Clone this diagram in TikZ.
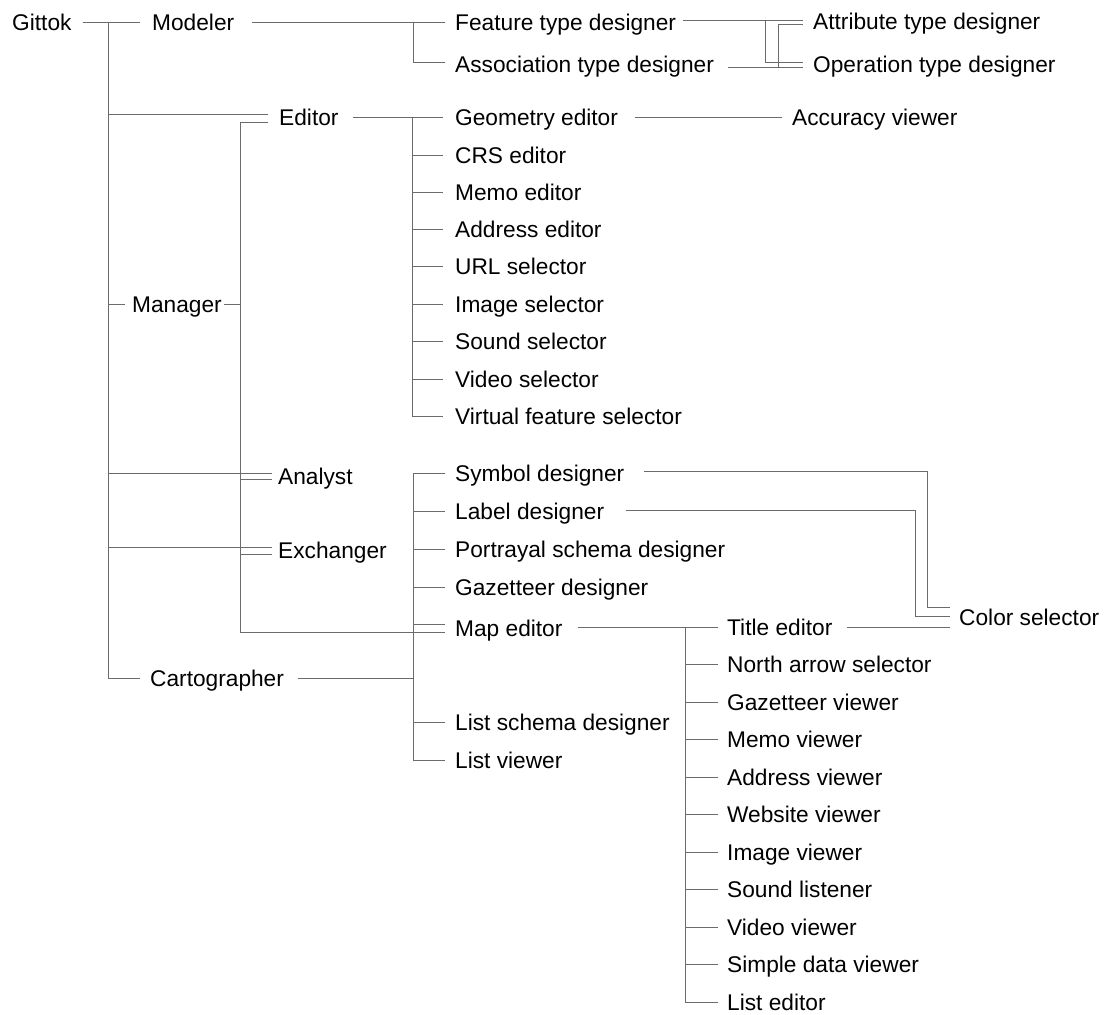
\documentclass[tikz,border=0pt]{standalone}
\usepackage{fontspec}
\setmainfont{Liberation Sans}
\begin{document}
\begin{tikzpicture}[x=1pt,y=-1pt,
  lbl/.style={anchor=west, inner sep=0pt, text height=16.2pt, text depth=0pt,
              font=\fontsize{22.7}{27}\selectfont},
  wire/.style={draw=black!58, line width=0.8pt}]
\useasboundingbox (0,0) rectangle (1107,1014);
% note: yshift is in canvas units, so a positive yshift moves a point up

% ---- labels ----
\node[lbl] (gittok)    at (12,22)   {Gittok};
\node[lbl] (modeler)   at (152,22)  {Modeler};
\node[lbl] (manager)   at (132,304) {Manager};
\node[lbl] (carto)     at (150,678) {Cartographer};
\node[lbl] (editor)    at (279,117) {Editor};
\node[lbl] (analyst)   at (278,476) {Analyst};
\node[lbl] (exchanger) at (278,550.5) {Exchanger};

\node[lbl] (feature)   at (455,22)  {Feature type designer};
\node[lbl] (assoc)     at (455,64)  {Association type designer};
\node[lbl] (attr)      at (813,21)  {Attribute type designer};
\node[lbl] (oper)      at (813,64)  {Operation type designer};

\node[lbl] (geom)      at (455,117)   {Geometry editor};
\node[lbl] (crs)       at (455,155)   {CRS editor};
\node[lbl] (memoed)    at (455,192)   {Memo editor};
\node[lbl] (addred)    at (455,229)   {Address editor};
\node[lbl] (url)       at (455,266.5) {URL selector};
\node[lbl] (imgsel)    at (455,304)   {Image selector};
\node[lbl] (soundsel)  at (455,341.5) {Sound selector};
\node[lbl] (videosel)  at (455,379)   {Video selector};
\node[lbl] (virtual)   at (455,416.5) {Virtual feature selector};
\node[lbl] (accuracy)  at (792,117)   {Accuracy viewer};

\node[lbl] (symbol)    at (455,473)   {Symbol designer};
\node[lbl] (label)     at (455,511)   {Label designer};
\node[lbl] (portrayal) at (455,549)   {Portrayal schema designer};
\node[lbl] (gazdes)    at (455,587)   {Gazetteer designer};
\node[lbl] (mapeditor) at (455,628)   {Map editor};
\node[lbl] (listschema) at (455,722)  {List schema designer};
\node[lbl] (listviewer) at (455,760)  {List viewer};
\node[lbl] (color)     at (959,617)   {Color selector};

\node[lbl] (title)     at (727,627)    {Title editor};
\node[lbl] (north)     at (727,664.5)  {North arrow selector};
\node[lbl] (gazview)   at (727,702)    {Gazetteer viewer};
\node[lbl] (memoview)  at (727,739.5)  {Memo viewer};
\node[lbl] (addrview)  at (727,777)    {Address viewer};
\node[lbl] (website)   at (727,814.5)  {Website viewer};
\node[lbl] (imageview) at (727,852)    {Image viewer};
\node[lbl] (soundlist) at (727,889.5)  {Sound listener};
\node[lbl] (videoview) at (727,927)    {Video viewer};
\node[lbl] (simple)    at (727,964.5)  {Simple data viewer};
\node[lbl] (listeditor) at (727,1002)  {List editor};

% ---- junction points ----
\coordinate (jroot)  at (108,22);
\coordinate (jman)   at (240,304);
\coordinate (jmod)   at (413,22);
\coordinate (jfeat)  at (765,20);
\coordinate (jassoc) at (778,67);
\coordinate (jedit)  at (412,117);
\coordinate (jcarto) at (413,678);
\coordinate (jmap)   at (685,627);

% ---- root ----
\draw[wire] ([xshift=11]gittok.east) -- ([xshift=-12]modeler.west);
\draw[wire] (jroot) |- ([xshift=-11,yshift=2.5]editor.west);
\draw[wire] (jroot) |- ([xshift=-7]manager.west);
\draw[wire] (jroot) |- ([xshift=-6,yshift=3]analyst.west);
\draw[wire] (jroot) |- ([xshift=-6,yshift=3.5]exchanger.west);
\draw[wire] (jroot) |- ([xshift=-10]carto.west);

% ---- manager ----
\draw[wire] ([xshift=2]manager.east) -- (jman);
\draw[wire] (jman) |- ([xshift=-11,yshift=-5.5]editor.west);
\draw[wire] (jman) |- ([xshift=-6,yshift=-3]analyst.west);
\draw[wire] (jman) |- ([xshift=-6,yshift=-3.5]exchanger.west);
\draw[wire] (jman) |- ([xshift=-10,yshift=-4]mapeditor.west);

% ---- modeler ----
\draw[wire] ([xshift=18]modeler.east) -- ([xshift=-10]feature.west);
\draw[wire] (jmod) |- ([xshift=-10,yshift=2]assoc.west);
\draw[wire] ([xshift=7,yshift=2]feature.east) -- ([xshift=-10,yshift=1]attr.west);
\draw[wire] (jfeat) |- ([xshift=-10,yshift=2]oper.west);
\draw[wire] ([xshift=14,yshift=-3]assoc.east) -- ([xshift=-10,yshift=-3]oper.west);
\draw[wire] (jassoc) |- ([xshift=-10,yshift=-3]attr.west);

% ---- editor ----
\draw[wire] ([xshift=14]editor.east) -- ([xshift=-12]geom.west);
\foreach \n in {crs,memoed,addred,url,imgsel,soundsel,videosel,virtual}
  \draw[wire] (jedit) |- ([xshift=-12]\n.west);
\draw[wire] ([xshift=17]geom.east) -- ([xshift=-10]accuracy.west);

% ---- cartographer ----
\draw[wire] ([xshift=14]carto.east) -- (jcarto);
\foreach \n in {symbol,label,portrayal,gazdes,listschema,listviewer}
  \draw[wire] (jcarto) |- ([xshift=-10]\n.west);
\draw[wire] (jcarto) |- ([xshift=-10,yshift=4]mapeditor.west);

% ---- colour selector ----
\draw[wire] ([xshift=20,yshift=2]symbol.east) -| ([xshift=-32,yshift=10]color.west)
            -- ([xshift=-9,yshift=10]color.west);
\draw[wire] ([xshift=22,yshift=1]label.east) -| ([xshift=-44,yshift=1]color.west)
            -- ([xshift=-9,yshift=1]color.west);
\draw[wire] ([xshift=14]title.east) -- ([xshift=-9,yshift=-10]color.west);

% ---- map editor ----
\draw[wire] ([xshift=15,yshift=1]mapeditor.east) -- ([xshift=-9]title.west);
\foreach \n in {north,gazview,memoview,addrview,website,imageview,soundlist,videoview,simple,listeditor}
  \draw[wire] (jmap) |- ([xshift=-9]\n.west);
\end{tikzpicture}
\end{document}
